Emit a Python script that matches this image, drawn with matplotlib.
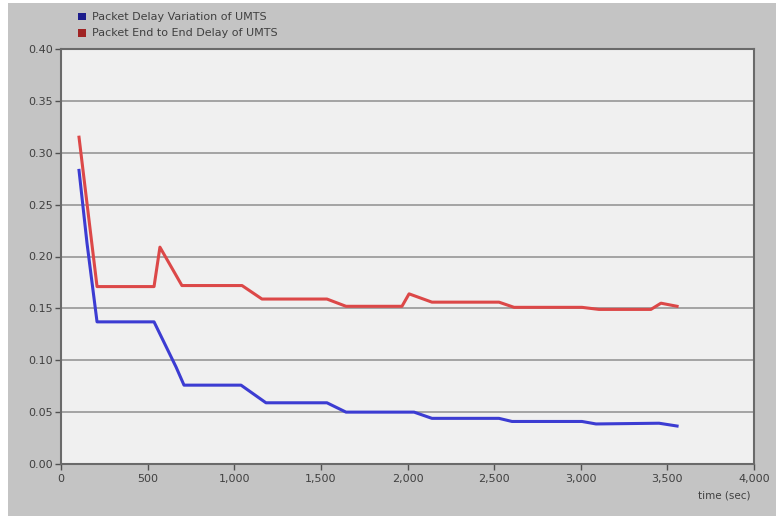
import matplotlib
matplotlib.use("Agg")
import matplotlib.pyplot as plt
from matplotlib.patches import Rectangle
from matplotlib.ticker import FuncFormatter

plt.rcParams['font.family'] = ['DejaVu Sans']

# Data (time in seconds, delay in seconds)
red_t = [104, 208, 537, 571, 698, 1045, 1160, 1535, 1645, 1968, 2009, 2141,
         2528, 2615, 3007, 3105, 3405, 3463, 3556]
red_v = [0.315, 0.171, 0.171, 0.209, 0.172, 0.172, 0.159, 0.159, 0.152, 0.152,
         0.164, 0.156, 0.156, 0.151, 0.151, 0.149, 0.149, 0.155, 0.152]

blue_t = [104, 150, 208, 537, 664, 710, 1039, 1183, 1535, 1645, 2038, 2141,
          2528, 2603, 3007, 3088, 3452, 3556]
blue_v = [0.283, 0.213, 0.137, 0.137, 0.0935, 0.076, 0.076, 0.059, 0.059, 0.050,
          0.050, 0.044, 0.044, 0.041, 0.041, 0.0386, 0.0393, 0.0366]

series_names = ["Packet Delay Variation of UMTS", "Packet End to End Delay of UMTS"]
x_ticks = [0, 500, 1000, 1500, 2000, 2500, 3000, 3500, 4000]
y_ticks = [0.00, 0.05, 0.10, 0.15, 0.20, 0.25, 0.30, 0.35, 0.40]
x_label = "time (sec)"

W, H = 776, 516
fig = plt.figure(figsize=(W / 100, H / 100), dpi=100, facecolor='white')
fig.patches.append(Rectangle((8 / W, 0), 1 - 8 / W, (H - 3) / H,
                             transform=fig.transFigure, facecolor='#c4c4c4',
                             edgecolor='none', zorder=-10))

ax = fig.add_axes([61 / W, (H - 464) / H, (754 - 61) / W, (464 - 49) / H])
ax.set_zorder(5)
ax.set_facecolor('#f0f0f0')

ax.plot(blue_t, blue_v, color='#3c3cd2', lw=2.2, zorder=3, solid_joinstyle='round')
ax.plot(red_t, red_v, color='#dc4848', lw=2.2, zorder=3, solid_joinstyle='round')

ax.set_xlim(0, 4000)
ax.set_ylim(0, 0.40)
ax.set_xticks(x_ticks)
ax.set_yticks(y_ticks)
ax.xaxis.set_major_formatter(FuncFormatter(lambda v, p: f"{int(v):,}"))
ax.yaxis.set_major_formatter(FuncFormatter(lambda v, p: f"{v:.2f}"))
ax.tick_params(axis='both', labelsize=8, colors='#505050', length=4, width=1,
               direction='out', labelcolor='#404040')
ax.tick_params(axis='x', pad=3)
ax.tick_params(axis='y', pad=2)

ax.grid(axis='y', color='#969696', lw=1.2, zorder=1)
ax.set_axisbelow(True)
for s in ax.spines.values():
    s.set_color('#6a6a6a')
    s.set_linewidth(1.5)

fig.text(750 / W, 1 - 495 / H, x_label, ha='right', va='center', fontsize=7.5,
         color='#404040')

# Legend in the upper margin
leg_colors = ['#1c1c8c', '#a02424']
leg_y = [16.5, 33]
for name, c, yy in zip(series_names, leg_colors, leg_y):
    fig.patches.append(Rectangle((78 / W, 1 - (yy + 3.5) / H), 8 / W, 7 / H,
                                 transform=fig.transFigure, facecolor=c,
                                 edgecolor='none', zorder=2))
    fig.text(92 / W, 1 - yy / H, name, ha='left', va='center', fontsize=8,
             color='#404040')

fig.savefig('out.png', dpi=100, facecolor=fig.get_facecolor())
